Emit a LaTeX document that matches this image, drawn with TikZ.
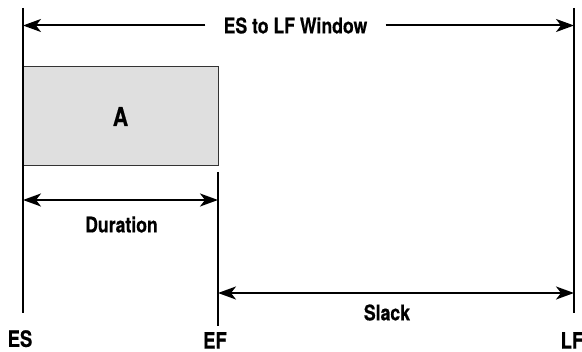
\documentclass[tikz,border=0pt]{standalone}
\usepackage{fontspec}
\setmainfont{TeX Gyre Heros}[FakeStretch=0.82, BoldFeatures={FakeBold=0.5}]
\usetikzlibrary{positioning, calc, arrows.meta}

\tikzset{
  evline/.style={line width=2.6pt},
  span/.style={line width=2pt, {Stealth[length=18pt, width=13pt, inset=5pt]}-{Stealth[length=18pt, width=13pt, inset=5pt]}},
  oneway/.style={line width=2pt, -{Stealth[length=18pt, width=13pt, inset=5pt]}},
  lbl/.style={font=\bfseries\fontsize{21.5}{21.5}\selectfont, inner sep=0pt},
  evlbl/.style={font=\bfseries\fontsize{22.5}{22.5}\selectfont, inner sep=0pt, anchor=north},
  taskbox/.style={draw=black!80, line width=1pt, fill=gray!25, minimum width=195pt, minimum height=99pt,
    font=\bfseries\fontsize{26}{26}\selectfont}
}

\begin{document}
\begin{tikzpicture}[x=1pt, y=-1pt]
        \useasboundingbox (0,0) rectangle (582,352);

        % Event lines
        \coordinate (es top) at (23,8);
        \coordinate (es bot) at (23,313);
        \coordinate (ef top) at (218,172);
        \coordinate (ef bot) at (218,326);
        \coordinate (lf top) at (574,8);
        \coordinate (lf bot) at (574,313);

        % Activity box
        \node[taskbox] (A) at (120.5,116.5) {A};

        \draw[evline] (es top) -- (es bot);
        \draw[evline] (ef top) -- (ef bot);
        \draw[evline] (lf top) -- (lf bot);

        % Window from ES to LF
        \node[lbl, inner xsep=18pt] (window) at (295.5,25.5) {ES to LF Window};
        \draw[oneway] (window.west) -- (es top |- window.west);
        \draw[oneway] (window.east) -- (lf top |- window.east);

        % Duration
        \coordinate (dur l) at (23,200);
        \coordinate (dur r) at (218,200);
        \draw[span] (dur l) -- (dur r);
        \node[lbl] (duration) at (121.5,224.5) {Duration};

        % Slack
        \coordinate (slk l) at (218,293);
        \coordinate (slk r) at (574,293);
        \draw[span] (slk l) -- (slk r);
        \node[lbl] (slack) at (387,312.5) {Slack};

        % Event labels
        \node[evlbl, below=17pt of es bot, xshift=-3pt] (es) {ES};
        \node[evlbl, below=6pt of ef bot, xshift=-3pt] (ef) {EF};
        \node[evlbl, below=19pt of lf bot, xshift=-2pt] (lf) {LF};
\end{tikzpicture}
\end{document}
